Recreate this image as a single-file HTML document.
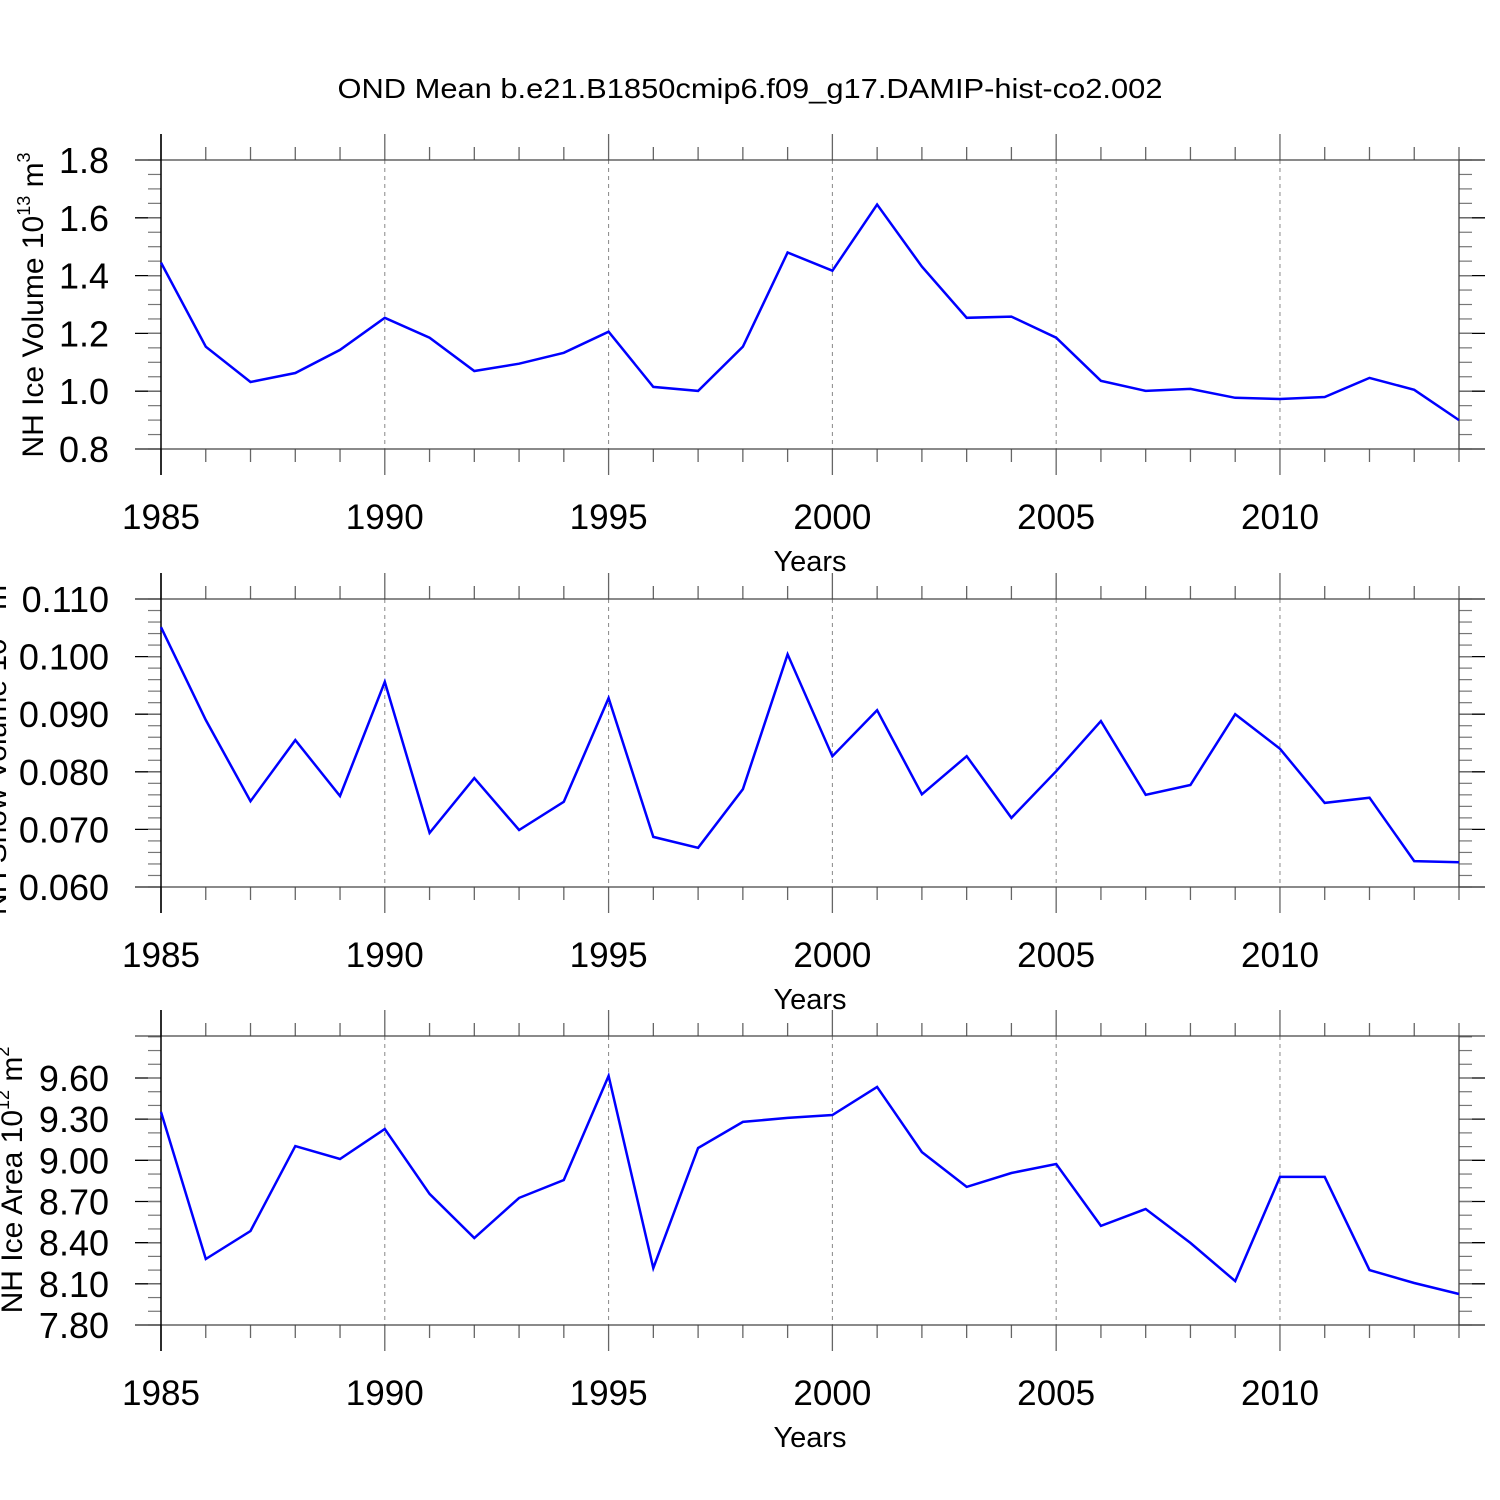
<!DOCTYPE html>
<html><head><meta charset="utf-8"><style>
html,body{margin:0;padding:0;background:#fff;}
svg{display:block;font-family:"Liberation Sans",Arial,sans-serif;}
</style></head><body>
<svg id="chart" width="1500" height="1500" viewBox="0 0 1500 1500" xmlns="http://www.w3.org/2000/svg">
<rect x="0" y="0" width="1500" height="1500" fill="#fff"/>
<text x="750" y="98" font-size="28" text-anchor="middle" textLength="825" lengthAdjust="spacingAndGlyphs">OND Mean b.e21.B1850cmip6.f09_g17.DAMIP-hist-co2.002</text>
</svg>
<script>
const years = [1985,1986,1987,1988,1989,1990,1991,1992,1993,1994,1995,1996,1997,1998,1999,2000,2001,2002,2003,2004,2005,2006,2007,2008,2009,2010,2011,2012,2013,2014];
const iceVolume = [1.445,1.154,1.032,1.063,1.143,1.254,1.185,1.07,1.095,1.133,1.206,1.015,1.001,1.154,1.48,1.417,1.646,1.431,1.254,1.258,1.185,1.036,1.001,1.008,0.977,0.973,0.98,1.046,1.005,0.90];
const snowVolume = [0.1051,0.0890,0.0749,0.0855,0.0758,0.0956,0.0694,0.0789,0.0699,0.0748,0.0928,0.0687,0.0668,0.0770,0.1004,0.0827,0.0907,0.0761,0.0827,0.0720,0.0801,0.0888,0.0760,0.0777,0.0900,0.0840,0.0746,0.0755,0.0645,0.0643];
const iceArea = [9.352,8.281,8.485,9.104,9.01,9.228,8.755,8.434,8.726,8.857,9.615,8.215,9.09,9.28,9.309,9.33,9.535,9.06,8.806,8.908,8.973,8.522,8.645,8.398,8.12,8.879,8.879,8.2,8.106,8.026];
const xTickLabels = ["1985","1990","1995","2000","2005","2010"];
const volTicks = ["0.8","1.0","1.2","1.4","1.6","1.8"];
const snowTicks = ["0.060","0.070","0.080","0.090","0.100","0.110"];
const areaTicks = ["7.80","8.10","8.40","8.70","9.00","9.30","9.60"];

const svg = document.getElementById('chart');
const NS = 'http://www.w3.org/2000/svg';
function mk(tag, attrs, parent){const e=document.createElementNS(NS,tag);for(const k in attrs)e.setAttribute(k,attrs[k]);(parent||svg).appendChild(e);return e;}

const X0=161, X1=1459;
function xs(yr){return X0+(yr-years[0])/(years[years.length-1]-years[0])*(X1-X0);}

function panel(cfg){
  const g=mk('g',{});
  
  
  const top=cfg.top,bot=cfg.bot;
  const ys=v=>bot-(v-cfg.ymin)/(cfg.ymax-cfg.ymin)*(bot-top);
  for(let yr=1990;yr<2014;yr+=5){
    const l=mk('line',{x1:xs(yr),x2:xs(yr),y1:top,y2:bot,stroke:'#888','stroke-width':1,'stroke-dasharray':'4,4'},g);
    
    
  }
  for(let yr=years[0];yr<=years[years.length-1];yr++){
    const major=(yr%5===0)||yr===years[0];
    const len=major?26:13;
    const c=(yr===years[0])?'#000':'#666';
    mk('line',{x1:xs(yr),x2:xs(yr),y1:top-len,y2:top,stroke:c,'stroke-width':1.3},g);
    mk('line',{x1:xs(yr),x2:xs(yr),y1:bot,y2:bot+len,stroke:c,'stroke-width':1.3},g);
  }
  const nMaj=cfg.ticks.length;
  for(let i=0;i<nMaj;i++){
    const v=cfg.ymin0+i*cfg.step;
    const y=ys(v);
    mk('line',{x1:X0-26,x2:X0,y1:y,y2:y,stroke:'#000','stroke-width':1.3},g);
    mk('line',{x1:X1,x2:X1+26,y1:y,y2:y,stroke:'#000','stroke-width':1.3},g);
    const t=mk('text',{x:109,y:y+13,'font-size':36,'text-anchor':'end'},g);
    t.textContent=cfg.ticks[i];
    
    
  }
  for(let v=cfg.ymin0;v<=cfg.ymax+1e-9;v+=cfg.minor){
    const y=ys(v);
    mk('line',{x1:X0-13,x2:X0,y1:y,y2:y,stroke:'#777','stroke-width':1.2},g);
    mk('line',{x1:X1,x2:X1+13,y1:y,y2:y,stroke:'#777','stroke-width':1.2},g);
  }
  mk('line',{x1:X0-26,x2:X1+26,y1:top,y2:top,stroke:'#444','stroke-width':1.3},g);
  mk('line',{x1:X0-26,x2:X1+26,y1:bot,y2:bot,stroke:'#444','stroke-width':1.3},g);
  mk('line',{x1:X0,x2:X0,y1:top-26,y2:bot+26,stroke:'#000','stroke-width':1.5},g);
  mk('line',{x1:X1,x2:X1,y1:top,y2:bot,stroke:'#444','stroke-width':1.3},g);
  const pts=years.map((yr,i)=>xs(yr).toFixed(1)+','+ys(cfg.data[i]).toFixed(1)).join(' ');
  const pl=mk('polyline',{points:pts,fill:'none',stroke:'#0000ff','stroke-width':2.5,'stroke-linejoin':'miter'},g);
  
  
  xTickLabels.forEach(lab=>{
    const t=mk('text',{x:xs(+lab),y:bot+80,'font-size':35,'text-anchor':'middle','textLength':78,'lengthAdjust':'spacingAndGlyphs'},g);
    t.textContent=lab;
    
    
  });
  const xt=mk('text',{x:810,y:bot+122,'font-size':29,'text-anchor':'middle'},g);
  xt.textContent='Years';
  
  
  const yt=mk('text',{transform:`translate(${cfg.labelX},${cfg.labelY}) rotate(-90)`,'font-size':30,'text-anchor':'middle'},g);
  
  
  const a=mk('tspan',{},yt);a.textContent=cfg.label+' 10';
  const b=mk('tspan',{dy:-13,'font-size':18},yt);b.textContent=cfg.exp1;
  const c=mk('tspan',{dy:13},yt);c.textContent=' m';
  const d=mk('tspan',{dy:-13,'font-size':18},yt);d.textContent=cfg.exp2;
}

panel({name:'ice-volume-panel',top:160,bot:449,ymin:0.8,ymax:1.8,ymin0:0.8,step:0.2,minor:0.05,ticks:volTicks,data:iceVolume,label:'NH Ice Volume',exp1:'13',exp2:'3',labelX:43,labelY:305});
panel({name:'snow-volume-panel',top:599,bot:887,ymin:0.06,ymax:0.11,ymin0:0.06,step:0.01,minor:0.002,ticks:snowTicks,data:snowVolume,label:'NH Snow Volume',exp1:'13',exp2:'3',labelX:6,labelY:745});
panel({name:'ice-area-panel',top:1036,bot:1325,ymin:7.8,ymax:9.906,ymin0:7.8,step:0.3,minor:0.1,ticks:areaTicks,data:iceArea,label:'NH Ice Area',exp1:'12',exp2:'2',labelX:22,labelY:1180});
</script>
</body></html>
